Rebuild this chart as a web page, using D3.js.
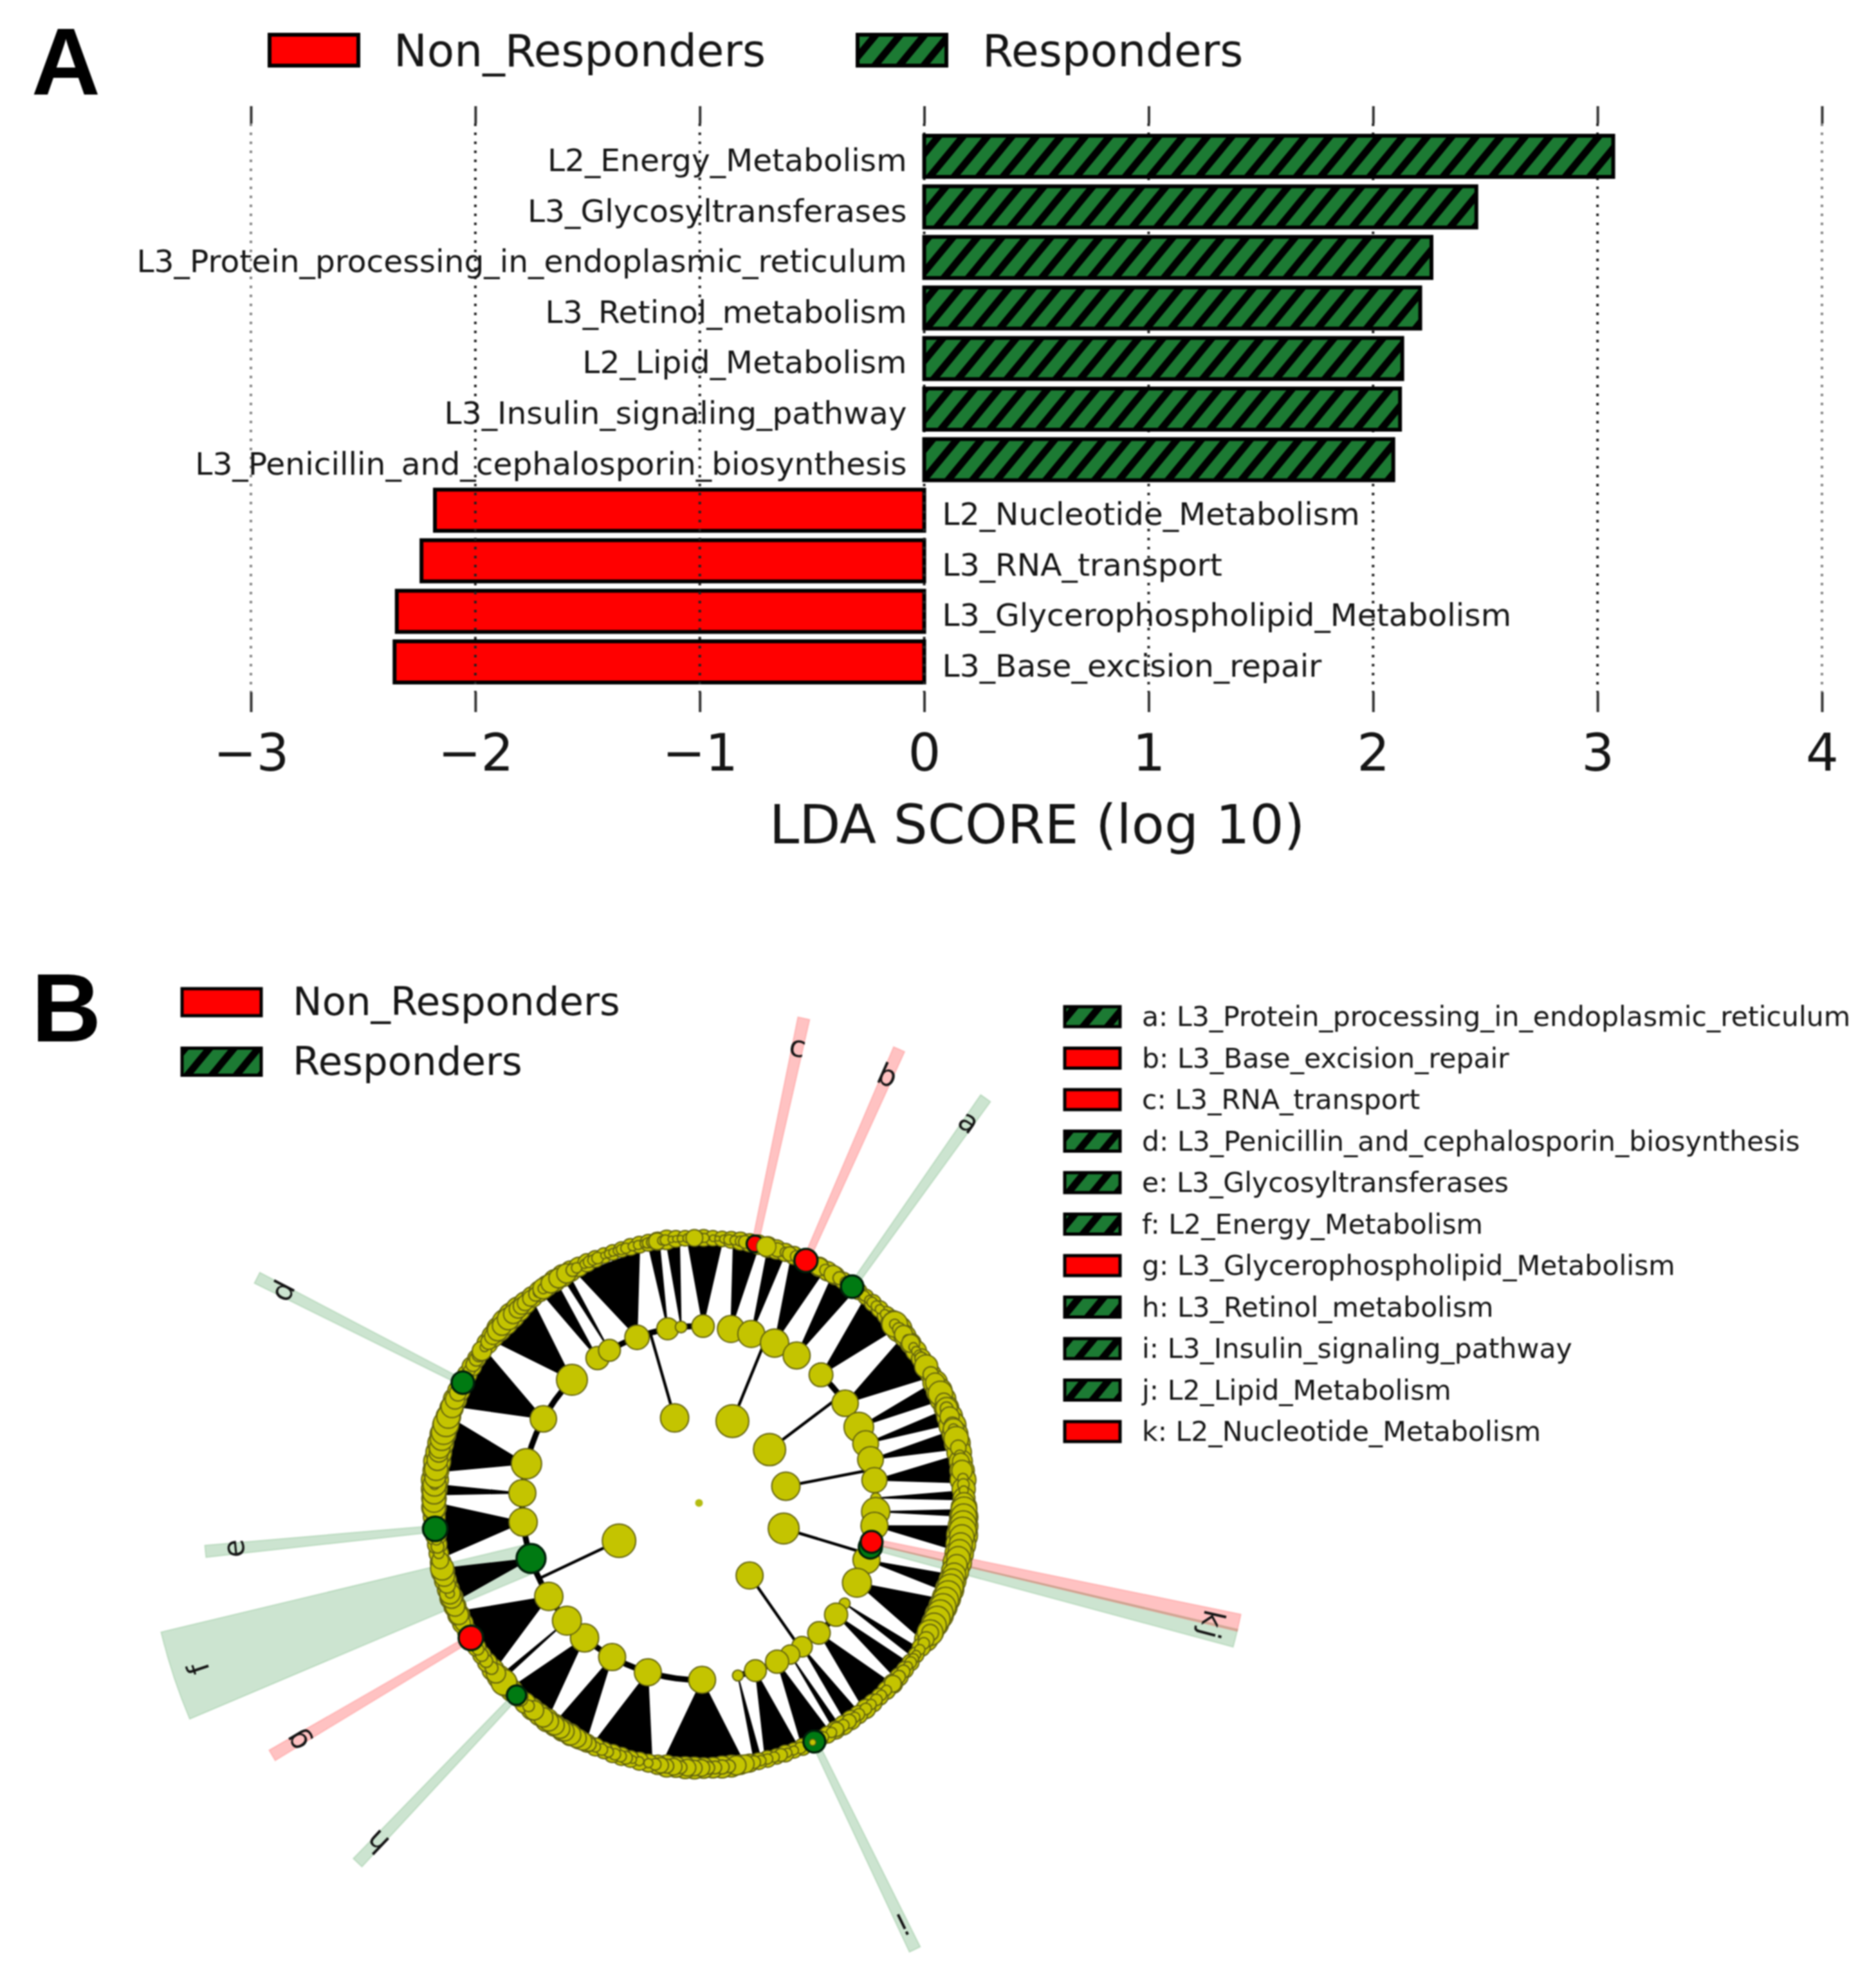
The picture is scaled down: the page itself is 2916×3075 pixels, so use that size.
<!DOCTYPE html>
<html><head><meta charset="utf-8">
<script src="https://cdn.jsdelivr.net/npm/d3@7"></script>
<style>html,body{margin:0;padding:0;background:#fff}svg{display:block;filter:blur(0.9px)}text{font-family:"DejaVu Sans";fill:#151515}</style>
</head><body><div id="c"></div>
<script>
// ---------- Panel A data ----------
const groups = ["Non_Responders", "Responders"];
const features = ["L2_Energy_Metabolism","L3_Glycosyltransferases","L3_Protein_processing_in_endoplasmic_reticulum","L3_Retinol_metabolism","L2_Lipid_Metabolism","L3_Insulin_signaling_pathway","L3_Penicillin_and_cephalosporin_biosynthesis","L2_Nucleotide_Metabolism","L3_RNA_transport","L3_Glycerophospholipid_Metabolism","L3_Base_excision_repair"];
const ldaScores = [3.07,2.46,2.26,2.21,2.13,2.12,2.09,-2.18,-2.24,-2.35,-2.36];
const xTicks = [-3,-2,-1,0,1,2,3,4];
const xTitle = "LDA SCORE (log 10)";

// ---------- Panel B data ----------
const cladeKeys = ["a","b","c","d","e","f","g","h","i","j","k"];
const cladeNames = ["L3_Protein_processing_in_endoplasmic_reticulum","L3_Base_excision_repair","L3_RNA_transport","L3_Penicillin_and_cephalosporin_biosynthesis","L3_Glycosyltransferases","L2_Energy_Metabolism","L3_Glycerophospholipid_Metabolism","L3_Retinol_metabolism","L3_Insulin_signaling_pathway","L2_Lipid_Metabolism","L2_Nucleotide_Metabolism"];
const cladeGroup = [1,0,0,1,1,1,0,1,1,1,0];
const cladeLevel = [3,3,3,3,3,2,3,3,3,2,2];
const cladeFrom = [34.6,23.1,11.5,296.3,263.7,247,238.7,222.8,153.5,103.2,101.6];
const cladeTo   = [36,24.5,12.9,297.7,265.1,256.5,240.1,224.2,154.9,105.1,103.4];
const cladeAngle = [35.3,23.8,12.2,297,264.4,251.7,239.4,223.5,154.2,104.4,102.7];
const cladeSize = [17.5,18,13,17.5,19,22.5,19,15,17,18,17];

const l1Angle = [344,22.2,52.9,79.1,106.8,145.1,244.7];
const l1Size = [22,25.5,25,22,24,21,26];
const l1From = [325,10.4,43.6,70.4,92.8,124.6,179];
const l1To = [361.3,33.5,64.6,88.4,116.8,167.3,314.1];

const l2Angle = [339.5,349.8,354.2,1.3,10.4,17.2,25.3,33.5,43.6,55.7,64.6,70.4,75.8,82.6,88.4,92.8,97.4,108.8,116.8,124.6,129.2,137.3,144.4,149,153.8,161.4,167.3,179,196.8,209.4,220.3,228.3,238.1,263.8,273.2,282.8,298.4,314.1,325,329.6];
const l2Size = [19,17,9,17.5,21,21,22,21,18.5,20.5,23,20,20,19.5,8,22,21,21,22.5,8.5,18,17.5,16,15,18,17,8.5,21,21,21,22,22.5,22,22,21,23.5,20.5,24,18,17];

// fan of terminal links: parent node angle, first and last leaf angle
const fanParent = [273.2,282.8,298.4,314.1,325,329.6,339.5,349.8,354.2,1.3,10.4,17.2,25.3,33.5,43.6,55.7,64.6,70.4,75.8,82.6,88.4,92.8,97.4,108.8,116.8,124.6,129.2,137.3,144.4,149,153.8,161.4,167.3,179,196.8,209.4,220.3,228.3,238.1,251.7,263.8];
const fanFirst  = [271.8,277,291.8,308.4,323.2,328.9,332.1,348.9,352.9,357.6,7.6,15.2,20.7,30.5,39.2,51,62.9,69.3,74.1,79.6,87.4,91.5,95.1,106,111.7,123.5,127.4,133.3,142.7,147.8,150.4,158,166.4,170.5,190.5,205.5,215.3,228,231.1,248.2,258.2];
const fanLast   = [274,288.7,305.3,320.4,327.1,330.3,346.7,351.3,355.7,365,13,19,28.2,36.1,48.3,61.2,66.9,72.5,78.1,85.5,89.3,92.9,100.4,109.7,121.4,125.7,131.6,141.2,146.1,149.2,156.9,165.3,167.9,187.7,203.5,213.1,225.3,229,245.4,255.5,269.8];

// larger leaves seen behind the front row of the outer ring
const backAngle = [1,3,5,7,9,11,13,15,17,19,21,23,25,27,29,31,33,35,37,39,41,43,45,47,49,51,53,55,57,59,61,63,65,67,69,71,73,75,77,79,81,83,85,87,89,91,93,95,97,99,101,103,105,107,109,111,113,115,117,119,121,123,125,127,129,131,133,135,137,139,141,143,145,147,149,151,153,155,157,159,161,163,165,167,169,171,173,175,177,179,181,183,185,187,189,191,193,195,197,199,201,203,205,207,209,211,213,215,217,219,221,223,225,227,229,231,233,235,237,239,241,243,245,247,249,251,253,255,257,259,261,263,265,267,269,271,273,275,277,279,281,283,285,287,289,291,293,295,297,299,301,303,305,307,309,311,313,315,317,319,321,323,325,327,329,331,333,335,337,339,341,343,345,347,349,351,353,355,357,359];
const backSize = [13,12,12,13,14,14,15,16,15,14,14,15,14,15,15,14,13,14,13,12,13,13,14,18,20,17,16,16,15,14,16,19,20,20,19,20,21,20,20,19,18,19,20,18,17,20,22,23,24,23,22,22,21,21,22,22,22,22,21,20,18,14,12,13,13,14,15,14,13,14,15,14,15,15,14,13,13,12,13,12,13,12,13,13,14,15,17,17,16,16,17,17,16,17,15,14,14,13,14,14,13,14,14,15,17,17,17,18,17,17,16,15,17,19,18,17,15,14,14,13,15,16,17,17,18,17,17,18,16,15,15,16,16,17,19,19,20,21,20,21,20,20,20,20,19,18,18,17,16,15,15,14,14,16,17,19,20,20,19,17,16,16,16,17,17,16,15,14,13,12,12,12,13,13,13,14,15,13,12,12];

const leafAngle = [0,1.2,3,4,5.3,6.5,7.7,9,10,12.5,16,17.2,19,20,21.5,25.5,27,28.5,30.4,32,33.5,37,38.6,40,40.8,42,43,44.5,46,47.6,47.6,49,50.5,52,53,54,55,56,57,58,59,61,63,65.6,67.5,69.1,69.1,71,73,73.8,73.8,76,78,79.6,81,82,83,84.7,86,87.3,89,90,91.5,93,94.5,96,97.4,99,100.5,102,103.5,105.7,107,108.5,110,111.5,113,114.5,116,117.5,119.3,119.3,121,122,123.6,125,126,127,128,129.5,131,133,135,136.5,138,139.5,141,142.9,144,145.5,147,148.7,150,152,156,157.5,159,160.5,162,163.5,165,166.5,168,170,171.9,173.5,175,176.5,178,179.5,181,182.5,184,185.5,187,188.3,189.5,191,193,194.5,196,197.2,198.5,200,201.5,203,204.5,206,207.5,209,210.5,211.6,213,214.5,216,218.5,220,222,225,227.4,230,231.5,233.4,235,236.5,238,241,243,245,247,249,250,250,252,254,255.7,257.5,259,260.5,262,266,267.5,269,270.5,272.3,274,274,275.5,277.4,279.3,281,282,284,285.5,287.4,289,291.3,293,294.6,298.5,300,301.5,302.9,304,305,306,307.5,309,310.6,312,314,315.5,317,318,319,320.5,322,322.7,324,324,326,328,330,331.5,332.5,334.4,335.5,336.4,337.5,339,340,341,342,343,344,345.5,346.7,348,348.8,350,350.9,352,352.7,354,355,356,357.5,359];
const leafSize = [9,7,5,4,6,8,7,8,10,8,9,11,8,11,9,10,14,9,14,10,8,9,8,7,8,8,7,7,9,20,8,10,14,8,14,7,7,7,10,7,18,12,15,19,13,17,10,15,13,16,8,19,12,8,13,6,16,8,9,7,7,16,20,20,20,21,19,18,18,18,16,18,18,20,20,20,20,20,20,19,20,13,12,9,8,7,8,9,7,10,10,13,8,8,9,8,9,9,8,11,9,11,8,8,7,9,7,7,10,8,8,8,10,14,15,10,11,10,10,13,12,13,10,13,11,12,9,7,7,6,10,9,9,8,9,8,11,14,15,16,15,15,15,15,15,15,9,9,14,20,15,10,10,10,9,9,12,12,15,15,16,16,7,13,16,18,13,8,10,8,12,13,18,18,18,18,8,16,18,16,15,16,18,19,20,18,17,15,13,7,9,11,11,11,15,7,12,13,16,15,17,15,14,13,12,12,11,8,16,8,15,15,15,10,8,7,9,8,9,5,6,6,6,8,8,7,7,6,8,10,13,7,8,5,5,5,7,13];

// ---------- Colours ----------
const leafFill = "#c4c400", leafStroke = "#62620f";
const groupColor = ["#ff0000","#007a12"];

// ---------- Canvas ----------
const W = 2916, H = 3075;
const svg = d3.select("#c").append("svg").attr("width",W).attr("height",H).attr("viewBox",[0,0,W,H]);
svg.append("rect").attr("width",W).attr("height",H).attr("fill","#fff");

const defs = svg.append("defs");
const pat = defs.append("pattern").attr("id","hatch").attr("patternUnits","userSpaceOnUse").attr("width",38).attr("height",46);
pat.append("rect").attr("width",38).attr("height",46).attr("fill","#1c7a33");
pat.append("path").attr("d","M-19,23L19,-23M-19,69L57,-23M19,69L57,23").attr("stroke","#000").attr("stroke-width",11).attr("fill","none");
const fillFor = g => g === 1 ? "url(#hatch)" : "#ff0000";

const swatch = (sel,x,y,w,h,g,sw) => sel.append("rect").attr("x",x).attr("y",y).attr("width",w).attr("height",h).attr("fill",fillFor(g)).attr("stroke","#000").attr("stroke-width",sw);

// Panel letters
svg.append("text").attr("x",49).attr("y",147).text("A").style("font-family","'Liberation Sans'").style("font-weight",700).style("font-size","148px").style("fill","#000");
svg.append("text").attr("x",49).attr("y",1619).text("B").style("font-family","'Liberation Sans'").style("font-weight",700).style("font-size","150px").style("fill","#000");

// ---------- Panel A ----------
const x = d3.scaleLinear().domain([-3,4]).range([390,2832]);
const y = d3.scalePoint().domain(features).range([243,1029]);
const barH = 64;
const A = svg.append("g");

// legend
swatch(A,419,54,138,48,0,6);
A.append("text").attr("x",612).attr("y",103).text(groups[0]).style("font-size","69.3px");
swatch(A,1333,54,138,48,1,6);
A.append("text").attr("x",1527).attr("y",103).text(groups[1]).style("font-size","69.3px");

const rowData = features.map((f,i)=>({f,v:ldaScores[i]}));
const drawBars = rows => A.append("g").selectAll("rect").data(rows).join("rect")
  .attr("x",d=>x(Math.min(0,d.v))).attr("width",d=>Math.abs(x(d.v)-x(0)))
  .attr("y",d=>y(d.f)-barH/2).attr("height",barH)
  .attr("fill",d=>d.v>0?fillFor(1):fillFor(0)).attr("stroke","#000").attr("stroke-width",6);

drawBars(rowData.filter(d=>d.v<0));

// dotted grid
A.append("g").selectAll("line").data(xTicks).join("line")
  .attr("x1",d=>x(d)).attr("x2",d=>x(d)).attr("y1",192).attr("y2",1076)
  .attr("stroke",d=>(d===-3||d===4)?"#888":"#222").attr("stroke-width",4).attr("stroke-dasharray","4 10");

drawBars(rowData.filter(d=>d.v>0));

A.append("g").selectAll("text").data(rowData).join("text")
  .attr("x",d=>d.v>0?x(0)-27:x(0)+28).attr("y",d=>y(d.f)+23)
  .attr("text-anchor",d=>d.v>0?"end":"start").text(d=>d.f).style("font-size","48.7px");

const fmt = d => d<0 ? "\u2212"+Math.abs(d) : ""+d;
const axB = A.append("g").attr("transform","translate(0,1076)").call(d3.axisBottom(x).tickValues(xTicks).tickFormat(fmt).tickSize(31).tickPadding(36));
axB.select(".domain").remove();
axB.selectAll("line").attr("stroke","#333").attr("stroke-width",4);
axB.selectAll("text").style("font-size","80px").style("font-family","'DejaVu Sans'").attr("y",null).attr("dy",null).attr("transform","translate(0,122)").style("fill","#151515");
const axT = A.append("g").attr("transform","translate(0,192)").call(d3.axisTop(x).tickValues(xTicks).tickFormat("").tickSize(27));
axT.select(".domain").remove();
axT.selectAll("line").attr("stroke","#333").attr("stroke-width",4);
A.append("text").attr("x",1612).attr("y",1311).attr("text-anchor","middle").text(xTitle).style("font-size","83.5px");

// ---------- Panel B ----------
// legend
const B = svg.append("g");
groups.forEach((g,i)=>{
  swatch(B,283,1537+i*92.5,123,42,i,5);
  B.append("text").attr("x",455).attr("y",1578+i*92.5).text(g).style("font-size","61px");
});
cladeKeys.forEach((k,i)=>{
  swatch(B,1655,1565+i*64.5,86,31,cladeGroup[i],5);
  B.append("text").attr("x",1775).attr("y",1595+i*64.5).text(k+": "+cladeNames[i]).style("font-size","42.6px");
});

const rad = d3.scaleLinear().domain([0,360]).range([0,2*Math.PI]);
const C = B.append("g").attr("transform","translate(1086.5,2336.5)");
const RC = 137.5, R2 = 275, RL = 412, RFan = 402, RBgLeaf = 771, RBgBig = 860, RLblLeaf = 727, RLblBig = 820;
const sector = d3.arc();

// clade backgrounds
C.append("g").selectAll("path").data(cladeKeys.map((k,i)=>i)).join("path")
  .attr("d",i=>sector({innerRadius:cladeLevel[i]===2?R2:RL,outerRadius:cladeLevel[i]===2?RBgBig:RBgLeaf,startAngle:rad(cladeFrom[i]),endAngle:rad(cladeTo[i])}))
  .attr("fill",i=>cladeGroup[i]===1?"#007a12":"#ff0000").attr("fill-opacity",i=>cladeGroup[i]===1?0.2:0.24)
  .attr("stroke",i=>cladeGroup[i]===1?"#007a12":"#ff0000").attr("stroke-opacity",0.15).attr("stroke-width",2);

// fans
const polar = d3.lineRadial().angle(d=>rad(d[0])).radius(d=>d[1]);
C.append("g").selectAll("path").data(fanParent.map((p,i)=>i)).join("path")
  .attr("d",i=>polar([[fanParent[i],R2],[fanFirst[i],RFan],[fanLast[i],RFan]])+"Z")
  .attr("fill","#000").attr("stroke","#000").attr("stroke-width",1.5).attr("stroke-linejoin","round");

// L1 → L2 radial links and sibling arcs
C.append("g").selectAll("path").data(l1Angle).join("path")
  .attr("d",a=>polar([[a,RC],[a,R2]])).attr("stroke","#000").attr("stroke-width",4.5).attr("fill","none");
C.append("g").selectAll("path").data(l1From.map((s,i)=>i)).join("path")
  .attr("d",i=>sector({innerRadius:R2-4.5,outerRadius:R2+4.5,startAngle:rad(l1From[i]),endAngle:rad(l1To[i])}))
  .attr("fill","#000");

const dot = (sel,rows,R,fill,stroke,sw) => sel.append("g").selectAll("circle").data(rows).join("circle")
  .attr("cx",d=>d3.pointRadial(rad(d.a),R)[0]).attr("cy",d=>d3.pointRadial(rad(d.a),R)[1])
  .attr("r",d=>d.s).attr("fill",fill).attr("stroke",stroke).attr("stroke-width",sw);

// root
C.append("circle").attr("r",6).attr("fill","#b4bc10");
// L1 nodes
dot(C,l1Angle.map((a,i)=>({a,s:l1Size[i]})),RC,leafFill,leafStroke,2);

// L2 nodes, coloured clades (j,k,f) inserted in angular order
const isL2Clade = i => cladeLevel[i]===2;
dot(C,l2Angle.map((a,i)=>({a,s:l2Size[i]})).sort((p,q)=>p.a-q.a),R2,leafFill,leafStroke,2);
cladeKeys.map((k,i)=>i).filter(isL2Clade).sort((p,q)=>cladeAngle[q]-cladeAngle[p]).forEach(i=>{
  dot(C,[{a:cladeAngle[i],s:cladeSize[i]}],R2,groupColor[cladeGroup[i]],"#00200a",3.5);
});

// leaves
dot(C,backAngle.map((a,i)=>({a,s:backSize[i]})),RL,leafFill,leafStroke,2);
const leafRows = leafAngle.map((a,i)=>({a,s:leafSize[i]})).sort((p,q)=>d3.ascending(p.a,q.a)||q.s-p.s);
dot(C,leafRows,RL,leafFill,leafStroke,2);
cladeKeys.map((k,i)=>i).filter(i=>!isL2Clade(i)).forEach(i=>{
  dot(C,[{a:cladeAngle[i],s:cladeSize[i]}],RL,groupColor[cladeGroup[i]],"#00200a",3.5);
});
// leaves that lie over the marked clades
const overAngle = [14.7,154.6], overSize = [15,5];
dot(C,overAngle.map((a,i)=>({a,s:overSize[i]})),RL,leafFill,leafStroke,1.6);

// clade letters
C.append("g").selectAll("text").data(cladeKeys.map((k,i)=>i)).join("text")
  .attr("transform",i=>{const r=cladeLevel[i]===2?RLblBig:RLblLeaf; const p=d3.pointRadial(rad(cladeAngle[i]),r); return `translate(${p[0]},${p[1]}) rotate(${cladeAngle[i]})`;})
  .attr("text-anchor","middle").attr("dy","0.36em").text(i=>cladeKeys[i]).style("font-size","46px");
</script></body></html>
